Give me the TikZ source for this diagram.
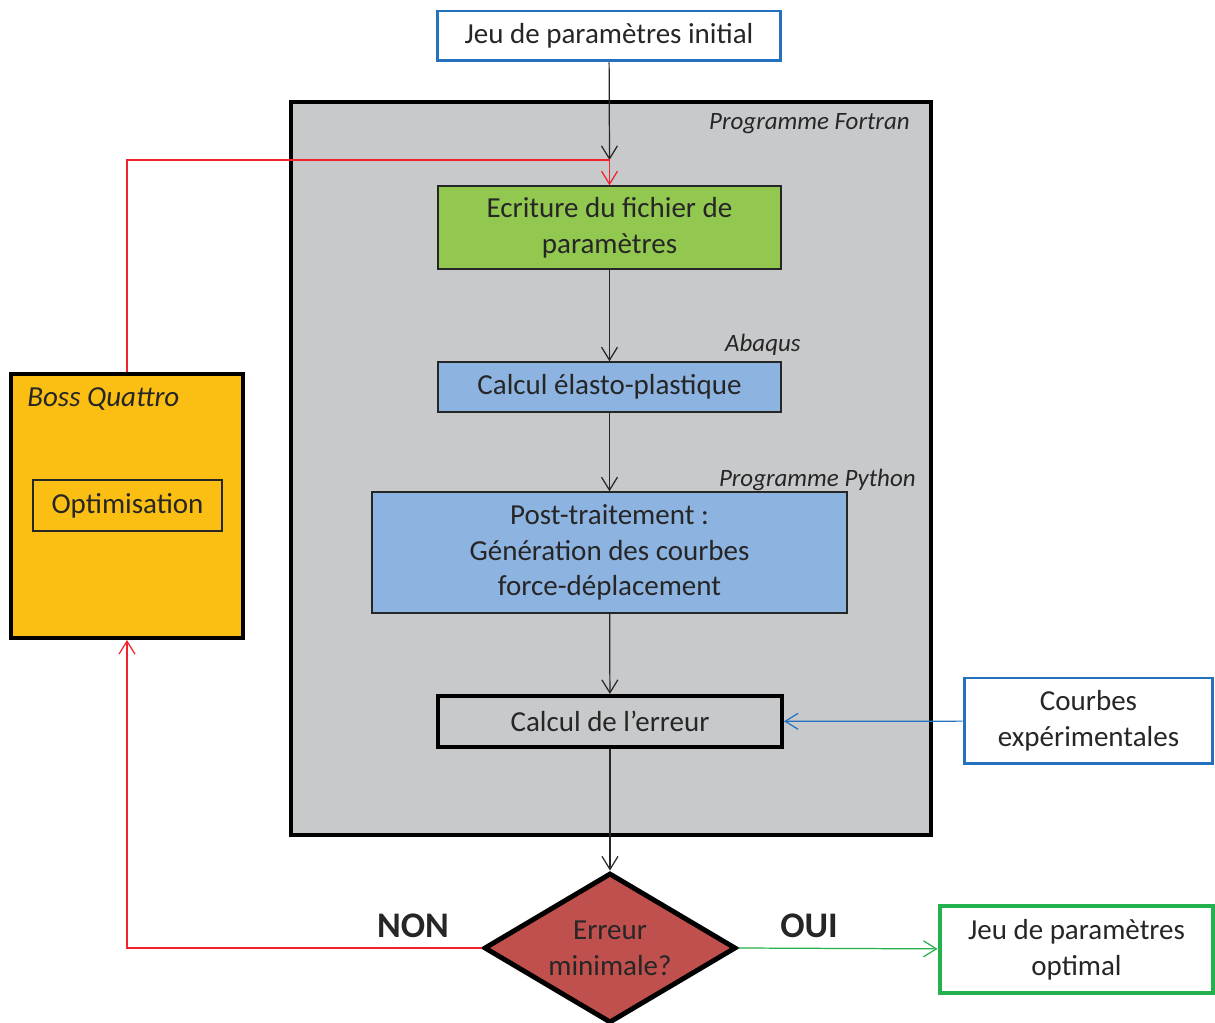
\documentclass[tikz,border=0pt]{standalone}
\usepackage{fontspec}
\setmainfont{Carlito}
\usetikzlibrary{arrows.meta, shapes.geometric}
\definecolor{ink}{HTML}{262626}
\definecolor{bleu}{HTML}{2471BD}
\definecolor{vert}{HTML}{22B14C}
\definecolor{rouge}{HTML}{F0222B}
\definecolor{fondgris}{HTML}{C8C9CB}
\definecolor{vertclair}{HTML}{92C84F}
\definecolor{bleuclair}{HTML}{8DB3E0}
\definecolor{orange}{HTML}{FBBF13}
\definecolor{brique}{HTML}{C0504D}

\begin{document}
\begin{tikzpicture}[x=0.02cm,y=-0.02cm,>={Straight Barb[length=2.6mm,width=3.2mm]},
  txt/.style={font=\fontsize{16.5}{20.3}\selectfont,text=ink,align=center,inner sep=0pt},
  box/.style={txt,draw=ink,line width=0.8pt},
  lbl/.style={font=\fontsize{14.2}{17}\selectfont\itshape,text=ink,inner sep=0pt},
  fleche/.style={->,ink,line width=0.7pt}]
  \useasboundingbox (0,0) rectangle (1215,1023);
  % containers
  \node[draw=black,fill=fondgris,line width=2.3pt,minimum width=12.8cm,minimum height=14.66cm]
    (fortran) at (611,468.5){};
  \node[draw=black,fill=orange,line width=2.3pt,minimum width=4.64cm,minimum height=5.28cm]
    (boss) at (127,506){};
  \node[lbl,anchor=east] (lfortran) at (910,124){Programme Fortran};
  \node[lbl,anchor=east] (labaqus) at (801,345){Abaqus};
  \node[lbl,anchor=east] (lpython) at (916,480){Programme Python};
  \node[lbl,font=\fontsize{16.5}{20}\selectfont\itshape,anchor=west] (lboss) at (27,399){Boss Quattro};
  % boxes
  \node[box,draw=bleu,line width=1.7pt,fill=white,minimum width=6.88cm,minimum height=1cm]
    (init) at (609,36){Jeu de paramètres initial};
  \node[box,fill=vertclair,minimum width=6.86cm,minimum height=1.66cm]
    (ecriture) at (609.5,227.5){Ecriture du fichier de\\paramètres};
  \node[box,fill=bleuclair,minimum width=6.86cm,minimum height=1cm]
    (calcul) at (609.5,387){Calcul élasto-plastique};
  \node[box,fill=bleuclair,minimum width=9.5cm,minimum height=2.42cm]
    (post) at (609.5,552.5){Post-traitement :\\Génération des courbes\\force-déplacement};
  \node[box,draw=black,line width=2.3pt,fill=fondgris,minimum width=6.88cm,minimum height=1.02cm]
    (erreur) at (610,721.5){Calcul de l’erreur};
  \node[box,draw=bleu,line width=1.7pt,fill=white,minimum width=4.98cm,minimum height=1.72cm]
    (courbes) at (1088.5,721){Courbes\\expérimentales};
  \node[box,draw=black,line width=2.8pt,fill=brique,diamond,shape aspect=1.68,
    minimum width=5.04cm,minimum height=3cm] (decision) at (610,948){Erreur\\minimale?};
  \node[box,draw=vert,line width=2.8pt,fill=white,minimum width=5.46cm,minimum height=1.74cm]
    (optimal) at (1076.5,949.5){Jeu de paramètres\\optimal};
  \node[box,minimum width=3.78cm,minimum height=1.02cm] (optim) at (127.5,505.5){Optimisation};
  \node[txt,font=\fontsize{20.5}{24}\bfseries] (non) at (413,926){NON};
  \node[txt,font=\fontsize{20.5}{24}\bfseries] (oui) at (809,926){OUI};
  % connectors
  \coordinate (merge) at (609.5,160);
  \draw[fleche] (init) -- (merge);
  \draw[rouge,line width=0.7pt] (boss.north) |- (merge);
  \draw[->,rouge,line width=0.7pt] (merge) -- (ecriture.north);
  \draw[fleche] (ecriture) -- (calcul);
  \draw[fleche] (calcul) -- (post);
  \draw[fleche] (post) -- (erreur);
  \draw[fleche] (erreur) -- (decision.north);
  \draw[->,bleu,line width=0.7pt] (courbes) -- (erreur);
  \draw[->,vert,line width=0.7pt] (decision.east) -- (optimal);
  \draw[->,rouge,line width=0.7pt] (decision.west) -| (boss.south);
\end{tikzpicture}
\end{document}
